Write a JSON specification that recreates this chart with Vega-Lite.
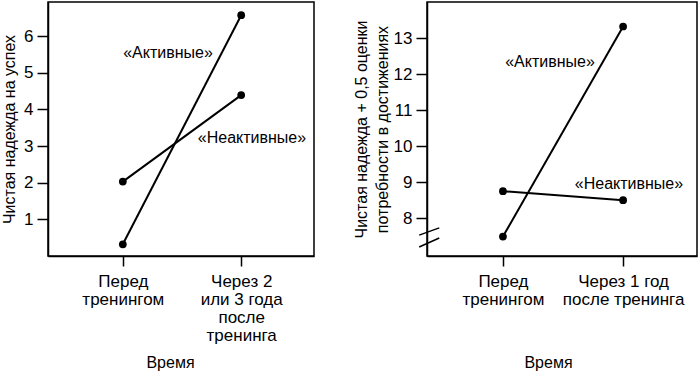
{
  "$schema": "https://vega.github.io/schema/vega-lite/v6.json",
  "padding": {"left": 0, "top": 1, "right": 0, "bottom": 0},
  "background": "#ffffff",
  "config": {
    "font": "Liberation Sans",
    "view": {"stroke": "#000000", "strokeWidth": 1.5},
    "axis": {
      "domainColor": "#000000", "domainWidth": 1.5,
      "tickColor": "#000000", "tickWidth": 1.5,
      "labelColor": "#000000", "titleColor": "#000000",
      "labelFontSize": 17, "titleFontSize": 16, "titleFontWeight": "normal",
      "labelFont": "Liberation Sans", "titleFont": "Liberation Sans",
      "grid": false
    },
    "text": {"font": "Liberation Sans", "fontSize": 16, "color": "#000000"}
  },
  "spacing": 37,
  "hconcat": [
    {
      "width": 266,
      "height": 254,
      "encoding": {
        "x": {
          "field": "t", "type": "quantitative",
          "scale": {"domain": [-0.632, 1.615], "nice": false, "zero": false},
          "axis": {
            "values": [0, 1], "tickSize": 10, "labelPadding": 7,
            "labelExpr": "datum.value == 0 ? ['Перед', 'тренингом'] : ['Через 2', 'или 3 года', 'после', 'тренинга']",
            "labelLineHeight": 18, "labelFlush": false,
            "title": "Время", "titleX": 122, "titleY": 106, "titleBaseline": "middle"
          }
        },
        "y": {
          "field": "v", "type": "quantitative",
          "scale": {"domain": [0, 6.93], "nice": false, "zero": false},
          "axis": {
            "values": [1, 2, 3, 4, 5, 6], "tickSize": 11, "labelPadding": 4,
            "title": "Чистая надежда на успех", "titlePadding": 6
          }
        }
      },
      "layer": [
        {
          "data": {"values": [
            {"series": "Активные", "t": 0, "v": 0.32},
            {"series": "Активные", "t": 1, "v": 6.57},
            {"series": "Неактивные", "t": 0, "v": 2.03},
            {"series": "Неактивные", "t": 1, "v": 4.39}
          ]},
          "layer": [
            {"mark": {"type": "line", "color": "#000000", "strokeWidth": 2}, "encoding": {"detail": {"field": "series"}}},
            {"mark": {"type": "point", "filled": true, "color": "#000000", "size": 60, "opacity": 1}, "encoding": {}}
          ]
        },
        {
          "data": {"values": [
            {"label": "«Активные»", "t": 0.382, "v": 5.55},
            {"label": "«Неактивные»", "t": 1.091, "v": 3.22}
          ]},
          "mark": {"type": "text", "align": "center", "baseline": "middle"},
          "encoding": {"text": {"field": "label"}}
        }
      ]
    },
    {
      "width": 270,
      "height": 254,
      "encoding": {
        "x": {
          "field": "t", "type": "quantitative",
          "scale": {"domain": [-0.632, 1.615], "nice": false, "zero": false},
          "axis": {
            "values": [0, 1], "tickSize": 10, "labelPadding": 7,
            "labelExpr": "datum.value == 0 ? ['Перед', 'тренингом'] : ['Через 1 год', 'после тренинга']",
            "labelLineHeight": 18, "labelFlush": false,
            "title": "Время", "titleX": 121, "titleY": 106, "titleBaseline": "middle"
          }
        },
        "y": {
          "field": "v", "type": "quantitative",
          "scale": {"domain": [6.95, 14.0], "nice": false, "zero": false},
          "axis": {
            "values": [8, 9, 10, 11, 12, 13], "tickSize": 11, "labelPadding": 4,
            "title": ["Чистая надежда + 0,5 оценки", "потребности в достижениях"],
            "titleLineHeight": 21, "titlePadding": 3
          }
        }
      },
      "layer": [
        {
          "data": {"values": [
            {"series": "Активные", "t": 0, "v": 7.49},
            {"series": "Активные", "t": 1, "v": 13.32},
            {"series": "Неактивные", "t": 0, "v": 8.75},
            {"series": "Неактивные", "t": 1, "v": 8.5}
          ]},
          "layer": [
            {"mark": {"type": "line", "color": "#000000", "strokeWidth": 2}, "encoding": {"detail": {"field": "series"}}},
            {"mark": {"type": "point", "filled": true, "color": "#000000", "size": 60, "opacity": 1}, "encoding": {}}
          ]
        },
        {
          "data": {"values": [
            {"label": "«Активные»", "t": 0.392, "v": 12.33},
            {"label": "«Неактивные»", "t": 1.049, "v": 8.95}
          ]},
          "mark": {"type": "text", "align": "center", "baseline": "middle"},
          "encoding": {"text": {"field": "label"}}
        },
        {
          "data": {"values": [
            {"t": -0.697, "v": 7.53, "t2": -0.53, "v2": 7.73},
            {"t": -0.697, "v": 7.2, "t2": -0.53, "v2": 7.45}
          ]},
          "mark": {"type": "rule", "color": "#000000", "strokeWidth": 1.5},
          "encoding": {"x2": {"field": "t2"}, "y2": {"field": "v2"}}
        }
      ]
    }
  ]
}
